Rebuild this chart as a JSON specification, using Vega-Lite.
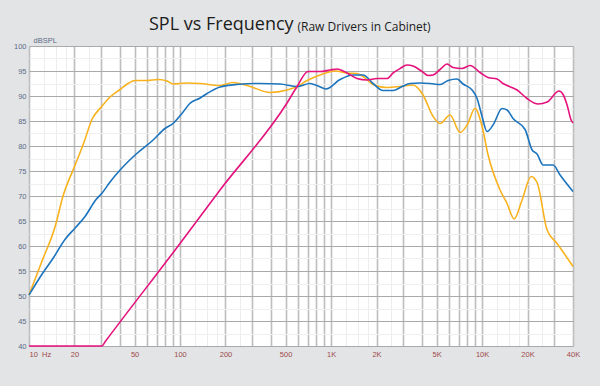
{
  "$schema": "https://vega.github.io/schema/vega-lite/v6.json",
  "width": 544,
  "height": 300,
  "autosize": {"type": "none"},
  "padding": {"top": 46, "left": 29, "right": 27, "bottom": 40},
  "background": "#e3e4e6",
  "title": {
    "text": "SPL vs Frequency",
    "anchor": "start",
    "frame": "group",
    "dx": 120,
    "baseline": "alphabetic",
    "offset": -28,
    "font": "Open Sans",
    "fontSize": 18,
    "fontWeight": "normal",
    "color": "#1c1c1c"
  },
  "config": {
    "view": {"fill": "white", "stroke": null}
  },
  "data": {
    "values": [
      {"driver": "Driver A", "freq": 10, "spl": 50.2},
      {"driver": "Driver A", "freq": 12.2, "spl": 57},
      {"driver": "Driver A", "freq": 14.9, "spl": 63.9},
      {"driver": "Driver A", "freq": 16.8, "spl": 70},
      {"driver": "Driver A", "freq": 20.2, "spl": 76.2},
      {"driver": "Driver A", "freq": 23.1, "spl": 80.7},
      {"driver": "Driver A", "freq": 26.1, "spl": 85.3},
      {"driver": "Driver A", "freq": 30.3, "spl": 87.9},
      {"driver": "Driver A", "freq": 34.4, "spl": 89.8},
      {"driver": "Driver A", "freq": 40.1, "spl": 91.3},
      {"driver": "Driver A", "freq": 45.3, "spl": 92.5},
      {"driver": "Driver A", "freq": 50.4, "spl": 93.1},
      {"driver": "Driver A", "freq": 60.4, "spl": 93.1},
      {"driver": "Driver A", "freq": 71.5, "spl": 93.3},
      {"driver": "Driver A", "freq": 82, "spl": 93.0},
      {"driver": "Driver A", "freq": 89.9, "spl": 92.4},
      {"driver": "Driver A", "freq": 111, "spl": 92.6},
      {"driver": "Driver A", "freq": 136, "spl": 92.5},
      {"driver": "Driver A", "freq": 184, "spl": 92.1},
      {"driver": "Driver A", "freq": 224, "spl": 92.7},
      {"driver": "Driver A", "freq": 291, "spl": 91.9},
      {"driver": "Driver A", "freq": 394, "spl": 90.7},
      {"driver": "Driver A", "freq": 511, "spl": 91.2},
      {"driver": "Driver A", "freq": 596, "spl": 91.9},
      {"driver": "Driver A", "freq": 694, "spl": 93.1},
      {"driver": "Driver A", "freq": 846, "spl": 94.2},
      {"driver": "Driver A", "freq": 1063, "spl": 95.0},
      {"driver": "Driver A", "freq": 1276, "spl": 94.6},
      {"driver": "Driver A", "freq": 1487, "spl": 94.5},
      {"driver": "Driver A", "freq": 1629, "spl": 93.9},
      {"driver": "Driver A", "freq": 1897, "spl": 92.3},
      {"driver": "Driver A", "freq": 2349, "spl": 91.7},
      {"driver": "Driver A", "freq": 2864, "spl": 91.9},
      {"driver": "Driver A", "freq": 3492, "spl": 92.2},
      {"driver": "Driver A", "freq": 4067, "spl": 90.2},
      {"driver": "Driver A", "freq": 4738, "spl": 85.9},
      {"driver": "Driver A", "freq": 5271, "spl": 84.5},
      {"driver": "Driver A", "freq": 6140, "spl": 86.2},
      {"driver": "Driver A", "freq": 7150, "spl": 82.7},
      {"driver": "Driver A", "freq": 7955, "spl": 84.2},
      {"driver": "Driver A", "freq": 8987, "spl": 87.5},
      {"driver": "Driver A", "freq": 10000, "spl": 83.9},
      {"driver": "Driver A", "freq": 10959, "spl": 78.2},
      {"driver": "Driver A", "freq": 13155, "spl": 71.2},
      {"driver": "Driver A", "freq": 14640, "spl": 68.5},
      {"driver": "Driver A", "freq": 16290, "spl": 65.4},
      {"driver": "Driver A", "freq": 18400, "spl": 69.2},
      {"driver": "Driver A", "freq": 21110, "spl": 73.9},
      {"driver": "Driver A", "freq": 23130, "spl": 72.7},
      {"driver": "Driver A", "freq": 26950, "spl": 63.2},
      {"driver": "Driver A", "freq": 31390, "spl": 60.5},
      {"driver": "Driver A", "freq": 40000, "spl": 55.9},

      {"driver": "Driver B", "freq": 10, "spl": 50.2},
      {"driver": "Driver B", "freq": 12.1, "spl": 54.2},
      {"driver": "Driver B", "freq": 14.4, "spl": 57.5},
      {"driver": "Driver B", "freq": 17.3, "spl": 61.3},
      {"driver": "Driver B", "freq": 20.2, "spl": 63.6},
      {"driver": "Driver B", "freq": 23.5, "spl": 65.9},
      {"driver": "Driver B", "freq": 27.8, "spl": 69.3},
      {"driver": "Driver B", "freq": 30.3, "spl": 70.5},
      {"driver": "Driver B", "freq": 34.4, "spl": 72.8},
      {"driver": "Driver B", "freq": 40.1, "spl": 75.2},
      {"driver": "Driver B", "freq": 50.4, "spl": 78.2},
      {"driver": "Driver B", "freq": 66.3, "spl": 81.2},
      {"driver": "Driver B", "freq": 79.5, "spl": 83.5},
      {"driver": "Driver B", "freq": 89.9, "spl": 84.5},
      {"driver": "Driver B", "freq": 103, "spl": 86.5},
      {"driver": "Driver B", "freq": 116, "spl": 88.5},
      {"driver": "Driver B", "freq": 136, "spl": 89.6},
      {"driver": "Driver B", "freq": 151, "spl": 90.5},
      {"driver": "Driver B", "freq": 184, "spl": 91.8},
      {"driver": "Driver B", "freq": 238, "spl": 92.3},
      {"driver": "Driver B", "freq": 339, "spl": 92.5},
      {"driver": "Driver B", "freq": 460, "spl": 92.4},
      {"driver": "Driver B", "freq": 596, "spl": 91.9},
      {"driver": "Driver B", "freq": 726, "spl": 92.5},
      {"driver": "Driver B", "freq": 820, "spl": 92.0},
      {"driver": "Driver B", "freq": 927, "spl": 91.4},
      {"driver": "Driver B", "freq": 1147, "spl": 93.3},
      {"driver": "Driver B", "freq": 1398, "spl": 94.2},
      {"driver": "Driver B", "freq": 1629, "spl": 94.2},
      {"driver": "Driver B", "freq": 1897, "spl": 92.5},
      {"driver": "Driver B", "freq": 2210, "spl": 91.1},
      {"driver": "Driver B", "freq": 2574, "spl": 91.1},
      {"driver": "Driver B", "freq": 2953, "spl": 91.9},
      {"driver": "Driver B", "freq": 3336, "spl": 92.5},
      {"driver": "Driver B", "freq": 3885, "spl": 92.6},
      {"driver": "Driver B", "freq": 4525, "spl": 92.5},
      {"driver": "Driver B", "freq": 5271, "spl": 92.3},
      {"driver": "Driver B", "freq": 5955, "spl": 93.1},
      {"driver": "Driver B", "freq": 6830, "spl": 93.4},
      {"driver": "Driver B", "freq": 7485, "spl": 92.4},
      {"driver": "Driver B", "freq": 8586, "spl": 91.2},
      {"driver": "Driver B", "freq": 9267, "spl": 89.5},
      {"driver": "Driver B", "freq": 10000, "spl": 85.9},
      {"driver": "Driver B", "freq": 10790, "spl": 82.9},
      {"driver": "Driver B", "freq": 11820, "spl": 84.2},
      {"driver": "Driver B", "freq": 13570, "spl": 87.5},
      {"driver": "Driver B", "freq": 14640, "spl": 87.2},
      {"driver": "Driver B", "freq": 16040, "spl": 85.5},
      {"driver": "Driver B", "freq": 19270, "spl": 83.3},
      {"driver": "Driver B", "freq": 21440, "spl": 79.2},
      {"driver": "Driver B", "freq": 23130, "spl": 78.4},
      {"driver": "Driver B", "freq": 25350, "spl": 76.2},
      {"driver": "Driver B", "freq": 29530, "spl": 76.2},
      {"driver": "Driver B", "freq": 32850, "spl": 74.2},
      {"driver": "Driver B", "freq": 40000, "spl": 70.9},

      {"driver": "Driver C", "freq": 10, "spl": 40},
      {"driver": "Driver C", "freq": 30.4, "spl": 40},
      {"driver": "Driver C", "freq": 32, "spl": 40.9},
      {"driver": "Driver C", "freq": 100, "spl": 60.5},
      {"driver": "Driver C", "freq": 184, "spl": 71.2},
      {"driver": "Driver C", "freq": 511, "spl": 88.6},
      {"driver": "Driver C", "freq": 596, "spl": 91.9},
      {"driver": "Driver C", "freq": 704, "spl": 94.9},
      {"driver": "Driver C", "freq": 846, "spl": 94.9},
      {"driver": "Driver C", "freq": 985, "spl": 95.2},
      {"driver": "Driver C", "freq": 1096, "spl": 95.4},
      {"driver": "Driver C", "freq": 1276, "spl": 94.6},
      {"driver": "Driver C", "freq": 1487, "spl": 93.5},
      {"driver": "Driver C", "freq": 1731, "spl": 93.2},
      {"driver": "Driver C", "freq": 2016, "spl": 93.5},
      {"driver": "Driver C", "freq": 2349, "spl": 93.5},
      {"driver": "Driver C", "freq": 2574, "spl": 94.6},
      {"driver": "Driver C", "freq": 2864, "spl": 95.5},
      {"driver": "Driver C", "freq": 3186, "spl": 96.2},
      {"driver": "Driver C", "freq": 3492, "spl": 96.0},
      {"driver": "Driver C", "freq": 4006, "spl": 94.9},
      {"driver": "Driver C", "freq": 4389, "spl": 94.1},
      {"driver": "Driver C", "freq": 4738, "spl": 94.2},
      {"driver": "Driver C", "freq": 5271, "spl": 95.3},
      {"driver": "Driver C", "freq": 5865, "spl": 96.4},
      {"driver": "Driver C", "freq": 6427, "spl": 95.7},
      {"driver": "Driver C", "freq": 7371, "spl": 95.5},
      {"driver": "Driver C", "freq": 8328, "spl": 96.1},
      {"driver": "Driver C", "freq": 9700, "spl": 94.7},
      {"driver": "Driver C", "freq": 10959, "spl": 93.7},
      {"driver": "Driver C", "freq": 12570, "spl": 93.4},
      {"driver": "Driver C", "freq": 13770, "spl": 92.5},
      {"driver": "Driver C", "freq": 17060, "spl": 91.2},
      {"driver": "Driver C", "freq": 19860, "spl": 89.5},
      {"driver": "Driver C", "freq": 23490, "spl": 88.4},
      {"driver": "Driver C", "freq": 26950, "spl": 88.8},
      {"driver": "Driver C", "freq": 32360, "spl": 91.0},
      {"driver": "Driver C", "freq": 34390, "spl": 90.3},
      {"driver": "Driver C", "freq": 36560, "spl": 88.2},
      {"driver": "Driver C", "freq": 38850, "spl": 85.2},
      {"driver": "Driver C", "freq": 40000, "spl": 84.6}
    ]
  },
  "mark": {"type": "line", "interpolate": "monotone", "strokeWidth": 1.6},
  "encoding": {
    "x": {
      "field": "freq",
      "type": "quantitative",
      "scale": {"type": "log", "domain": [10, 40000], "nice": false},
      "axis": {
        "values": [10, 12.5, 15, 17.5, 20, 25, 30, 40, 50, 60, 70, 80, 90,
                   100, 125, 150, 175, 200, 250, 300, 400, 500, 600, 700, 800, 900,
                   1000, 1250, 1500, 1750, 2000, 2500, 3000, 4000, 5000, 6000, 7000, 8000, 9000,
                   10000, 12500, 15000, 17500, 20000, 25000, 30000, 40000],
        "labelExpr": "datum.value == 10 ? '10\u00a0\u00a0Hz' : (indexof([20,50,100,200,500,1000,2000,5000,10000,20000,40000], datum.value) >= 0 ? (datum.value >= 1000 ? (datum.value / 1000) + 'K' : '' + datum.value) : '')",
        "labelAlign": {"condition": {"test": "datum.value == 10", "value": "left"}, "value": "center"},
        "labelFont": "Liberation Sans",
        "labelFontSize": 7.5,
        "labelColor": "#9c4b4b",
        "labelPadding": 4,
        "labelOverlap": false,
        "labelBound": false,
        "labelFlush": false,
        "ticks": false,
        "domain": false,
        "grid": true,
        "gridColor": {"condition": {"test": "indexof([12.5,15,17.5,25,125,150,175,250,1250,1500,1750,2500,12500,15000,17500,25000], datum.value) >= 0", "value": "#ededed"}, "value": "#bdbdbd"},
        "gridWidth": {"condition": {"test": "indexof([12.5,15,17.5,25,125,150,175,250,1250,1500,1750,2500,12500,15000,17500,25000], datum.value) >= 0", "value": 1}, "value": 1.6},
        "title": "(Raw Drivers in Cabinet)",
        "titleFont": "Open Sans",
        "titleFontSize": 12,
        "titleFontWeight": "normal",
        "titleColor": "#1c1c1c",
        "titleAlign": "left",
        "titleBaseline": "alphabetic",
        "titleX": 268,
        "titleY": -316
      }
    },
    "y": {
      "field": "spl",
      "type": "quantitative",
      "scale": {"domain": [40, 100], "nice": false, "zero": false},
      "axis": {
        "values": [40, 42.5, 45, 47.5, 50, 52.5, 55, 57.5, 60, 62.5, 65, 67.5, 70, 72.5, 75, 77.5, 80, 82.5, 85, 87.5, 90, 92.5, 95, 97.5, 100],
        "labelExpr": "datum.value % 5 == 0 ? '' + datum.value : ''",
        "labelFont": "Liberation Sans",
        "labelFontSize": 7.5,
        "labelColor": "#5b6b86",
        "labelPadding": 3,
        "ticks": false,
        "domain": false,
        "grid": true,
        "gridColor": {"condition": {"test": "datum.value % 5 != 0", "value": "#efefef"}, "value": "#a9a9a9"},
        "gridWidth": 1,
        "title": "dBSPL",
        "titleAngle": 0,
        "titleFont": "Liberation Sans",
        "titleFontSize": 7.5,
        "titleFontWeight": "normal",
        "titleColor": "#5b6b86",
        "titleAlign": "left",
        "titleBaseline": "alphabetic",
        "titleX": 4,
        "titleY": -4
      }
    },
    "color": {
      "field": "driver",
      "type": "nominal",
      "scale": {"domain": ["Driver A", "Driver B", "Driver C"], "range": ["#f9b21e", "#1b74bd", "#e5127d"]},
      "legend": null
    }
  }
}
